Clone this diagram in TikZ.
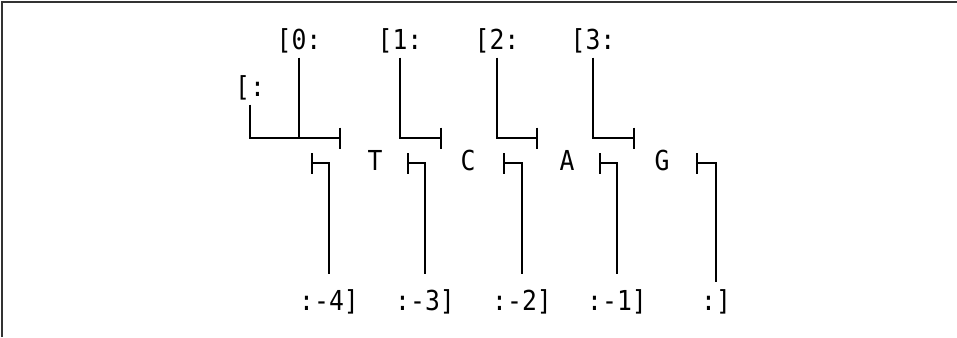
\documentclass[tikz,border=0pt]{standalone}
\usepackage{fontspec}
\setmonofont[FakeStretch=0.9]{DejaVu Sans Mono}
\usetikzlibrary{arrows.meta}

\begin{document}
\begin{tikzpicture}[x=1pt, y=-1pt,
    txt/.style = {font=\ttfamily\fontsize{27.5}{27.5}\selectfont, anchor=base},
    startlbl/.style = {txt, inner sep=2pt, outer ysep=3pt},
    stoplbl/.style = {txt, inner sep=2pt, outer ysep=13pt},
    slice/.style = {line width=2.1pt, black},
    endbar/.tip = {Bar[width=21pt, line width=2pt]}]
  \useasboundingbox (0,0) rectangle (957,337);
  \draw[black!80, line width=2pt] (2,337) -- (2,2) -- (957,2);
  % bases
  \node[txt] (t) at (375,170) {T};
  \node[txt] (c) at (468,170) {C};
  \node[txt] (a) at (567,170) {A};
  \node[txt] (g) at (662,170) {G};
  % start indices
  \node[startlbl] (fromall) at (250,96) {[:};
  \node[startlbl] (from0) at (299,49) {[0:};
  \node[startlbl] (from1) at (400,49) {[1:};
  \node[startlbl] (from2) at (497,49) {[2:};
  \node[startlbl] (from3) at (593,49) {[3:};
  \coordinate (bar0) at (341,138);
  \coordinate (bar1) at (442,138);
  \coordinate (bar2) at (538,138);
  \coordinate (bar3) at (635,138);
  \draw[slice, -endbar] (fromall.south) |- (bar0);
  \draw[slice] (from0.south) -- (from0.south |- bar0);
  \draw[slice, -endbar] (from1.south) |- (bar1);
  \draw[slice, -endbar] (from2.south) |- (bar2);
  \draw[slice, -endbar] (from3.south) |- (bar3);
  % stop indices
  \node[stoplbl] (to4) at (329,310) {:-4]};
  \node[stoplbl] (to3) at (425,310) {:-3]};
  \node[stoplbl] (to2) at (522,310) {:-2]};
  \node[stoplbl] (to1) at (617,310) {:-1]};
  \node[stoplbl] (toall) at (716,310) {:]};
  \coordinate (tick4) at (311,163);
  \coordinate (tick3) at (407,163);
  \coordinate (tick2) at (503,163);
  \coordinate (tick1) at (599,163);
  \coordinate (tickall) at (696,163);
  \draw[slice, endbar-] (tick4) -| (to4.north);
  \draw[slice, endbar-] (tick3) -| (to3.north);
  \draw[slice, endbar-] (tick2) -| (to2.north);
  \draw[slice, endbar-] (tick1) -| (to1.north);
  \draw[slice, endbar-, shorten >=-8pt] (tickall) -| (toall.north);
\end{tikzpicture}
\end{document}
